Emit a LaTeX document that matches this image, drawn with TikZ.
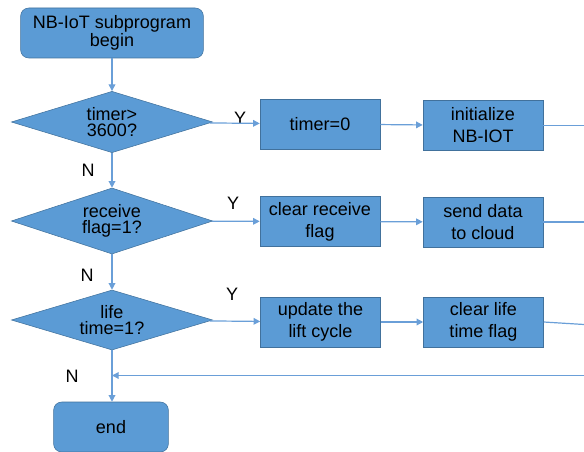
\documentclass[tikz,border=0pt]{standalone}
\usepackage{fontspec}
\setmainfont{Liberation Sans}
\usetikzlibrary{shapes.geometric}
\usetikzlibrary{arrows.meta}
\definecolor{boxblue}{HTML}{5B9BD5}
\definecolor{edgeblue}{HTML}{41719C}
\definecolor{lineblue}{HTML}{6A9FD8}

\begin{document}
\begin{tikzpicture}[x=0.75pt,y=-0.75pt,
        font=\fontsize{13.5}{12}\selectfont,
        startstop/.style={draw=edgeblue, fill=boxblue, rounded corners=6pt, align=center, minimum height=37.5pt, inner sep=0pt},
        decision/.style={draw=edgeblue, fill=boxblue, diamond, aspect=3.3, inner sep=0pt, minimum width=151pt, align=center},
        process/.style={draw=edgeblue, fill=boxblue, align=center, minimum width=90pt, minimum height=37.5pt, inner sep=0pt,
            font=\fontsize{13.5}{16.5}\selectfont},
        flow/.style={lineblue, line width=0.9pt, -{Triangle[length=5pt,width=5pt]}},
        plain/.style={lineblue, line width=0.9pt}]
        \useasboundingbox (0,0) rectangle (584,452);
        % start and checks
        \node[startstop, minimum width=137pt] (begin) at (112,33) {NB-IoT subprogram\\begin};
        \node[decision, minimum height=46pt] (timer) at (112,122) {timer>\\3600?};
        \node[decision, minimum height=49.5pt] (recv) at (112,221) {receive\\flag=1?};
        \node[decision, minimum height=45pt] (life) at (112,320) {life\\time=1?};
        \node[startstop, minimum width=86pt] (finish) at (111,427) {end};
        % actions
        \node[process] (reset) at (320,124) {timer=0};
        \node[process] (init) at (483,125.5) {initialize\\NB-IOT};
        \node[process] (clear) at (320,221.5) {clear receive\\flag};
        \node[process] (send) at (483,222) {send data\\ to cloud};
        \node[process] (update) at (320.5,322) {update the\\lift cycle};
        \node[process] (clearlife) at (483.5,322) {clear life\\time flag};
        % labels
        \node (y1) at (240,118) {Y};
        \node (y2) at (233,203) {Y};
        \node (y3) at (232,294) {Y};
        \node (n1) at (88,170) {N};
        \node (n2) at (87,275) {N};
        \node (n3) at (72,376) {N};
        % loose ends at the right edge
        \coordinate (out1) at (584,125.5);
        \coordinate (out2) at (584,222);
        \coordinate (out3) at (584,324.5);
        \coordinate (back) at (584,375.5);
        % connectors
        \draw[flow] (begin) -- (timer);
        \draw[flow] (timer) -- (reset);
        \draw[flow] (reset) -- (init);
        \draw[plain] (init.east) -- (out1);
        \draw[flow] (timer) -- (recv);
        \draw[flow] (recv) -- (clear);
        \draw[flow] (clear) -- (send);
        \draw[plain] (send.east) -- (out2);
        \draw[flow] (recv) -- (life);
        \draw[flow] (life) -- (update);
        \draw[flow] (update) -- (clearlife);
        \draw[plain] (clearlife.east) -- (out3);
        \draw[flow] (life) -- (life |- finish.north);
        \draw[flow] (back) -- (life |- back);
    \end{tikzpicture}
\end{document}
